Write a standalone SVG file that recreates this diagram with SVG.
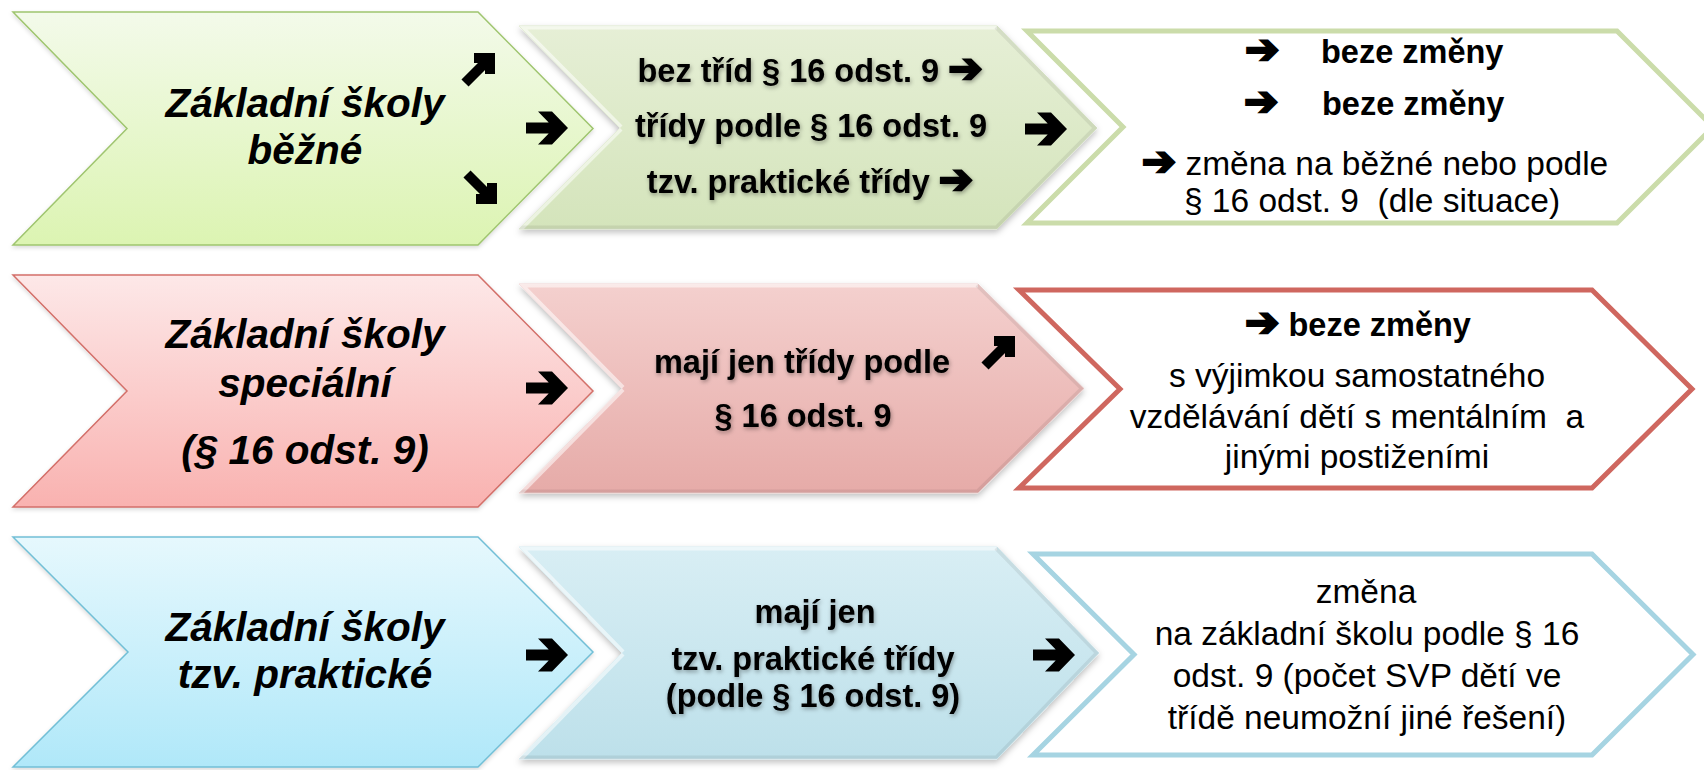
<svg xmlns="http://www.w3.org/2000/svg" width="1704" height="770" viewBox="0 0 1704 770">
<style>
.t1{font-family:"Liberation Sans",Arial,sans-serif;font-weight:bold;font-style:italic;font-size:40.5px;fill:#000;text-anchor:middle}
.t2{font-family:"Liberation Sans",Arial,sans-serif;font-weight:bold;font-size:32.5px;fill:#000;text-anchor:middle}
.t3{font-family:"Liberation Sans",Arial,sans-serif;font-size:33.5px;fill:#000;text-anchor:middle;white-space:pre}
.tb{font-family:"Liberation Sans",Arial,sans-serif;font-weight:bold;font-size:32.5px;fill:#000}
.ar{font-family:"DejaVu Sans",sans-serif;font-weight:bold;font-size:41px;stroke:#000;stroke-width:2.4px;stroke-linejoin:miter}
.c3{fill:#fff;stroke-width:5;stroke-linejoin:miter}
.hl{fill:none;stroke:#fff;stroke-opacity:0.55;stroke-width:7}
.dk{fill:none;stroke:#000;stroke-opacity:0.07;stroke-width:7}
</style>
<defs>
<linearGradient id="g1a" x1="0" y1="0" x2="0" y2="1"><stop offset="0" stop-color="#f3faea"/><stop offset="1" stop-color="#dcf4b2"/></linearGradient>
<linearGradient id="g2a" x1="0" y1="0" x2="0" y2="1"><stop offset="0" stop-color="#fde8e8"/><stop offset="1" stop-color="#f9b2b0"/></linearGradient>
<linearGradient id="g3a" x1="0" y1="0" x2="0" y2="1"><stop offset="0" stop-color="#e6f8fd"/><stop offset="1" stop-color="#b0e8f9"/></linearGradient>
<linearGradient id="g1b" x1="0" y1="0" x2="0" y2="1"><stop offset="0" stop-color="#e6efd6"/><stop offset="1" stop-color="#d4e4bb"/></linearGradient>
<linearGradient id="g2b" x1="0" y1="0" x2="0" y2="1"><stop offset="0" stop-color="#f4d0ce"/><stop offset="1" stop-color="#e6aba8"/></linearGradient>
<linearGradient id="g3b" x1="0" y1="0" x2="0" y2="1"><stop offset="0" stop-color="#d8eef4"/><stop offset="1" stop-color="#bde0ea"/></linearGradient>
<filter id="sh" x="-5%" y="-10%" width="110%" height="125%"><feDropShadow dx="0" dy="3" stdDeviation="3" flood-color="#000" flood-opacity="0.25"/></filter>
<filter id="shs" x="-5%" y="-10%" width="110%" height="125%"><feDropShadow dx="0" dy="2" stdDeviation="2" flood-color="#000" flood-opacity="0.15"/></filter>
<filter id="ts" x="-10%" y="-30%" width="120%" height="160%"><feDropShadow dx="1" dy="2" stdDeviation="2" flood-color="#000" flood-opacity="0.35"/></filter>
<clipPath id="cp1"><polygon points="519,26 997,26 1097,128 997,229 519,229 620,128"/></clipPath>
<clipPath id="cp2"><polygon points="519,284 978,284 1084,388.5 978,493 519,493 622,388.5"/></clipPath>
<clipPath id="cp3"><polygon points="519,547 997,547 1099,653 997,759 519,759 622,653"/></clipPath>
<path id="arr" d="M-21,-5.5 L1.7,-5.5 L-9,-16.5 L5,-16.5 L21,0 L5,16.5 L-9,16.5 L1.7,5.5 L-21,5.5 Z" fill="#000"/>
<path id="ne" d="M-5,-16 H16 V-6 H-5 Z M6,-16 H16 V5 H6 Z M6.46,-13.54 L13.54,-6.46 L-10.46,17.54 L-17.54,10.46 Z" fill="#000"/>
</defs>
<rect width="1704" height="770" fill="#fff"/>

<!-- Row 1 -->
<g id="r1-school">
<polygon points="13,12 478,12 593,128.5 478,245 13,245 127,128.5" fill="url(#g1a)" stroke="#9fc56f" stroke-width="1.5" filter="url(#shs)"/>
<text class="t1" x="305" y="117">Základní školy</text>
<text class="t1" x="305" y="164">běžné</text>
</g>
<g id="r1-classes">
<polygon points="519,26 997,26 1097,128 997,229 519,229 620,128" fill="url(#g1b)" stroke="#dbe7c9" stroke-width="1" filter="url(#sh)"/>
<g clip-path="url(#cp1)">
<polyline class="hl" points="620,128 519,26 997,26"/>
<polyline class="hl" points="620,128 519,229"/>
<polyline class="dk" points="997,26 1097,128 997,229 519,229"/>
</g>
<g filter="url(#ts)">
<text class="t2" x="810" y="82">bez tříd § 16 odst. 9 <tspan class="ar">➔</tspan></text>
<text class="t2" x="811" y="137">třídy podle § 16 odst. 9</text>
<text class="t2" x="810" y="193">tzv. praktické třídy <tspan class="ar">➔</tspan></text>
</g>
</g>
<g id="r1-result">
<polygon class="c3" points="1027,31 1617,31 1713,127 1617,223 1027,223 1123,127" stroke="#cbdcaa"/>
<text class="tb" y="63"><tspan class="ar" x="1245">➔</tspan><tspan x="1321">beze změny</tspan></text>
<text class="tb" y="115"><tspan class="ar" x="1244">➔</tspan><tspan x="1322">beze změny</tspan></text>
<text class="t3" x="1375" y="175"><tspan class="ar" font-size="36px">➔</tspan> změna na běžné nebo podle</text>
<text class="t3" x="1372" y="212">§ 16 odst. 9  (dle situace)</text>
</g>

<!-- Row 2 -->
<g id="r2-school">
<polygon points="13,275 478,275 593,391 478,507 13,507 127,391" fill="url(#g2a)" stroke="#d36f69" stroke-width="1.5" filter="url(#shs)"/>
<text class="t1" x="305" y="348">Základní školy</text>
<text class="t1" x="305" y="397">speciální</text>
<text class="t1" x="305" y="464">(§ 16 odst. 9)</text>
</g>
<g id="r2-classes">
<polygon points="519,284 978,284 1084,388.5 978,493 519,493 622,388.5" fill="url(#g2b)" stroke="#f0d3d2" stroke-width="1" filter="url(#sh)"/>
<g clip-path="url(#cp2)">
<polyline class="hl" points="622,388.5 519,284 978,284"/>
<polyline class="hl" points="622,388.5 519,493"/>
<polyline class="dk" points="978,284 1084,388.5 978,493 519,493"/>
</g>
<g filter="url(#ts)">
<text class="t2" x="802" y="373">mají jen třídy podle</text>
<text class="t2" x="803" y="427">§ 16 odst. 9</text>
</g>
</g>
<g id="r2-result">
<polygon class="c3" points="1019,290 1592,290 1692,389 1592,488 1019,488 1120,389" stroke="#cf675f"/>
<text class="t2" x="1358" y="336"><tspan class="ar">➔</tspan> beze změny</text>
<text class="t3" x="1357" y="387">s výjimkou samostatného</text>
<text class="t3" x="1357" y="428">vzdělávání dětí s mentálním  a</text>
<text class="t3" x="1357" y="468">jinými postiženími</text>
</g>

<!-- Row 3 -->
<g id="r3-school">
<polygon points="13,537 478,537 593,652 478,767 13,767 128,652" fill="url(#g3a)" stroke="#72bfd6" stroke-width="1.5" filter="url(#shs)"/>
<text class="t1" x="305" y="641">Základní školy</text>
<text class="t1" x="305" y="688">tzv. praktické</text>
</g>
<g id="r3-classes">
<polygon points="519,547 997,547 1099,653 997,759 519,759 622,653" fill="url(#g3b)" stroke="#d4ebf1" stroke-width="1" filter="url(#sh)"/>
<g clip-path="url(#cp3)">
<polyline class="hl" points="622,653 519,547 997,547"/>
<polyline class="hl" points="622,653 519,759"/>
<polyline class="dk" points="997,547 1099,653 997,759 519,759"/>
</g>
<g filter="url(#ts)">
<text class="t2" x="815" y="623">mají jen</text>
<text class="t2" x="813" y="670">tzv. praktické třídy</text>
<text class="t2" x="813" y="707">(podle § 16 odst. 9)</text>
</g>
</g>
<g id="r3-result">
<polygon class="c3" points="1033,554 1592,554 1693,654.5 1592,755 1033,755 1134,654.5" stroke="#a6d4e2"/>
<text class="t3" x="1366" y="603">změna</text>
<text class="t3" x="1367" y="645">na základní školu podle § 16</text>
<text class="t3" x="1367" y="687">odst. 9 (počet SVP dětí ve</text>
<text class="t3" x="1367" y="729">třídě neumožní jiné řešení)</text>
</g>

<!-- connectors -->
<g id="connectors">
<use href="#ne" transform="translate(479,69)"/>
<use href="#arr" transform="translate(547,128)"/>
<use href="#ne" transform="translate(481,188) scale(1,-1)"/>
<use href="#arr" transform="translate(1046,129)"/>
<use href="#arr" transform="translate(547,388)"/>
<use href="#ne" transform="translate(999,352)"/>
<use href="#arr" transform="translate(547,655)"/>
<use href="#arr" transform="translate(1054,655)"/>
</g>
</svg>
